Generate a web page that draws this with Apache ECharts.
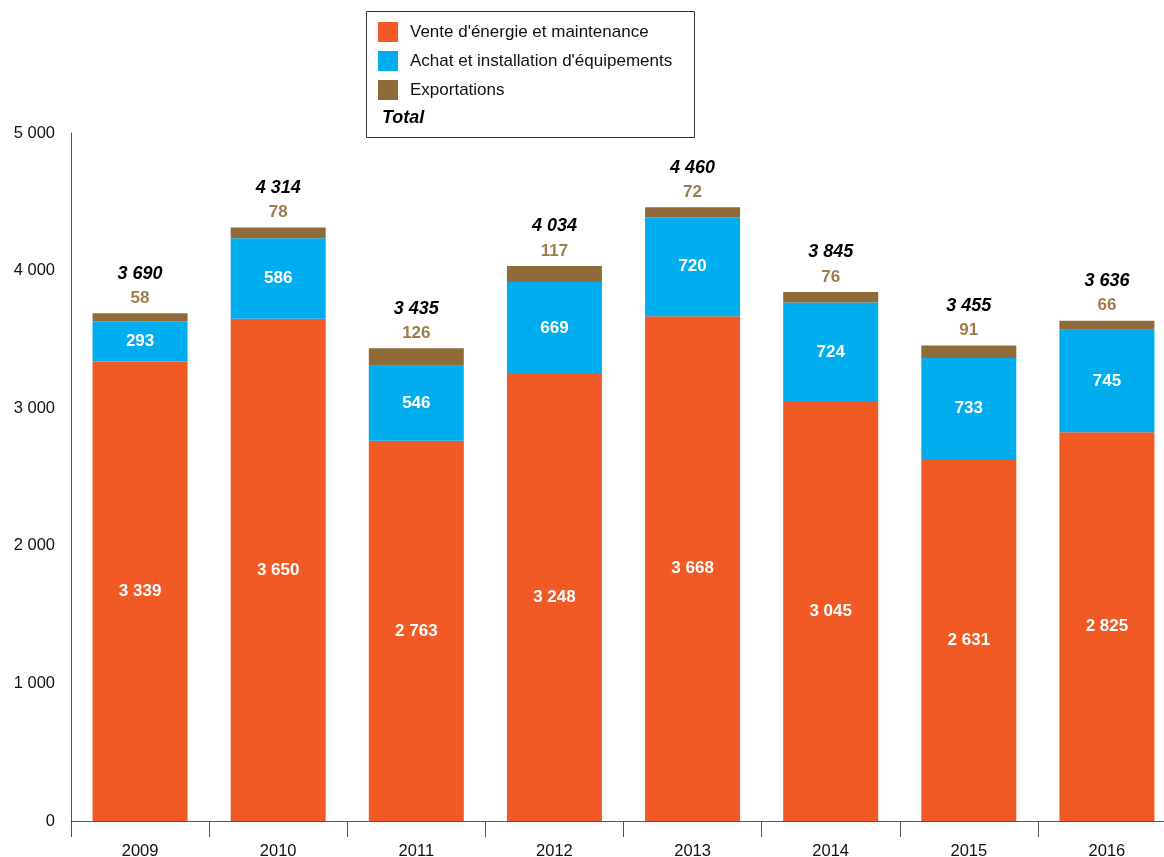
<!DOCTYPE html>
<html>
<head>
<meta charset="utf-8">
<script src="https://cdn.jsdelivr.net/npm/echarts@6/dist/echarts.min.js"></script>
<style>html,body{margin:0;padding:0;background:#fff}#c{width:1164px;height:857px}</style>
</head>
<body>
<div id="c"></div>
<script>
const years = ['2009','2010','2011','2012','2013','2014','2015','2016'];
const vente = [3339, 3650, 2763, 3248, 3668, 3045, 2631, 2825];
const achat = [293, 586, 546, 669, 720, 724, 733, 745];
const exportations = [58, 78, 126, 117, 72, 76, 91, 66];
const totals = [3690, 4314, 3435, 4034, 4460, 3845, 3455, 3636];
const yTicks = [0, 1000, 2000, 3000, 4000, 5000];

const FONT = '"Liberation Sans", Arial, sans-serif';
const fmt = v => String(v).replace(/\B(?=(\d{3})+(?!\d))/g, ' ');

const chart = echarts.init(document.getElementById('c'), null, {renderer: 'canvas'});
chart.setOption({
  animation: false,
  textStyle: {fontFamily: FONT},
  grid: {left: 71, top: 133, bottom: 36, width: 1105, containLabel: false, outerBoundsMode: 'none'},
  legend: {
    orient: 'vertical', left: 378, top: 22, padding: 0,
    itemWidth: 20, itemHeight: 20, itemGap: 9,
    icon: 'rect',
    textStyle: {fontFamily: FONT, fontSize: 17, color: '#111', padding: [0, 0, 0, 7]},
    data: ["Vente d'énergie et maintenance", "Achat et installation d'équipements", 'Exportations']
  },
  graphic: [
    {type: 'rect', shape: {x: 366.5, y: 11.5, width: 328, height: 126},
     style: {fill: 'none', stroke: '#333', lineWidth: 1}, z: 0},
    {type: 'text', left: 382, top: 109,
     style: {text: 'Total', font: 'italic bold 18px ' + FONT, fill: '#000'}}
  ],
  xAxis: {
    type: 'category', data: years,
    axisLine: {lineStyle: {color: '#555', width: 1}},
    axisTick: {show: true, length: 16, alignWithLabel: false, lineStyle: {color: '#555'}},
    axisLabel: {fontFamily: FONT, fontSize: 16.5, color: '#111', margin: 22}
  },
  yAxis: {
    type: 'value', min: yTicks[0], max: yTicks[yTicks.length - 1], interval: 1000,
    axisLine: {show: true, lineStyle: {color: '#555', width: 1}},
    axisTick: {show: false},
    splitLine: {show: false},
    axisLabel: {fontFamily: FONT, fontSize: 16.5, color: '#111', margin: 16, formatter: v => fmt(v)}
  },
  series: [
    {
      name: "Vente d'énergie et maintenance", type: 'bar', stack: 's', data: vente,
      barWidth: 95, itemStyle: {color: '#F15A24'},
      label: {show: true, position: 'inside', color: '#fff', fontWeight: 'bold', fontSize: 17, fontFamily: FONT, formatter: p => fmt(p.value)}
    },
    {
      name: "Achat et installation d'équipements", type: 'bar', stack: 's', data: achat,
      barWidth: 95, itemStyle: {color: '#00AEEF'},
      label: {show: true, position: 'inside', color: '#fff', fontWeight: 'bold', fontSize: 17, fontFamily: FONT, formatter: p => fmt(p.value)}
    },
    {
      name: 'Exportations', type: 'bar', stack: 's', data: exportations,
      barWidth: 95, itemStyle: {color: '#8F6B3A'},
      label: {
        show: true, position: 'top', distance: 5,
        formatter: p => '{t|' + fmt(totals[p.dataIndex]) + '}\n{v|' + fmt(p.value) + '}',
        rich: {
          t: {fontFamily: FONT, fontSize: 18, fontWeight: 'bold', fontStyle: 'italic', color: '#000', lineHeight: 29},
          v: {fontFamily: FONT, fontSize: 17, fontWeight: 'bold', color: '#A07C4A', lineHeight: 20}
        }
      }
    }
  ]
});
</script>
</body>
</html>
